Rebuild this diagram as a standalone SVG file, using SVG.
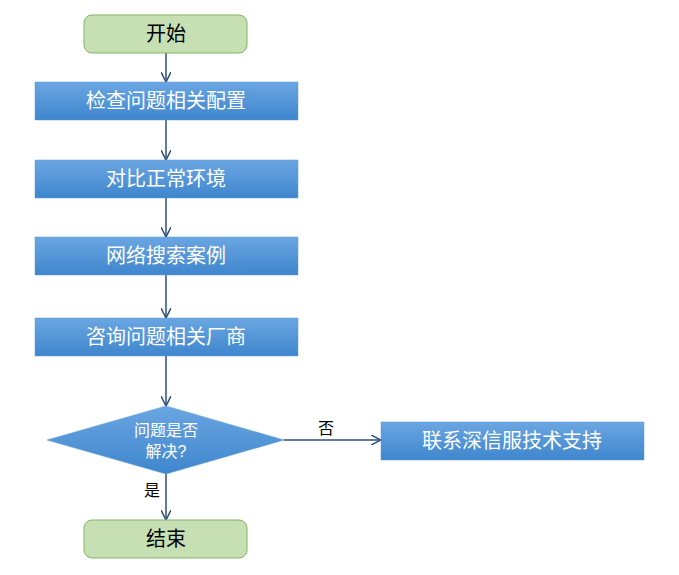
<svg xmlns="http://www.w3.org/2000/svg" width="679" height="575" viewBox="0 0 679 575">
<defs>
<linearGradient id="bg" x1="0" y1="0" x2="0" y2="1"><stop offset="0" stop-color="#6aa6e2"/><stop offset="1" stop-color="#3f86cd"/></linearGradient>
<marker id="ar" viewBox="0 0 10 10" refX="10" refY="5" markerWidth="10" markerHeight="10" markerUnits="userSpaceOnUse" orient="auto"><path d="M0,0 L10,5 L0,10" fill="none" stroke="#2f4f7a" stroke-width="1.5"/></marker>
<style>
.g{fill:#c6e0b4;stroke:#82b366;stroke-width:1}
.b{fill:url(#bg);stroke:#5b9bd5;stroke-width:0.5}
.t{font-family:"Liberation Sans","Noto Sans CJK SC",sans-serif;font-size:20px;text-anchor:middle;dominant-baseline:central}
.w{fill:#fff}
.k{fill:#000}
.c{stroke:#2f4f7a;stroke-width:1.5;fill:none;marker-end:url(#ar)}
.s{font-family:"Liberation Sans","Noto Sans CJK SC",sans-serif;font-size:16px;text-anchor:middle;dominant-baseline:central}
</style>
</defs>
<g id="connectors">
<line class="c" x1="166" y1="53" x2="166" y2="82"/>
<line class="c" x1="166" y1="120" x2="166" y2="160"/>
<line class="c" x1="166" y1="198" x2="166" y2="237"/>
<line class="c" x1="166" y1="275" x2="166" y2="318"/>
<line class="c" x1="166" y1="356" x2="166" y2="406"/>
<line class="c" x1="166" y1="474" x2="166" y2="520"/>
<line class="c" x1="284" y1="440" x2="381" y2="440"/>
<text class="s k" x="326" y="428">否</text>
<text class="s k" x="152" y="490">是</text>
</g>
<g id="start"><rect class="g" x="84" y="15" width="163" height="38" rx="8"/><text class="t k" x="166" y="34">开始</text></g>
<g id="n1"><rect class="b" x="35" y="82" width="263" height="38"/><text class="t w" x="166" y="101">检查问题相关配置</text></g>
<g id="n2"><rect class="b" x="35" y="160" width="263" height="38"/><text class="t w" x="166" y="179">对比正常环境</text></g>
<g id="n3"><rect class="b" x="35" y="237" width="263" height="38"/><text class="t w" x="166" y="256">网络搜索案例</text></g>
<g id="n4"><rect class="b" x="35" y="318" width="263" height="38"/><text class="t w" x="166" y="337">咨询问题相关厂商</text></g>
<g id="decision"><polygon class="b" points="166,406 284,440 166,474 47,440"/><text class="s w" x="166" y="430">问题是否</text><text class="s w" x="166" y="451">解决?</text></g>
<g id="support"><rect class="b" x="381" y="422" width="263" height="38"/><text class="t w" x="512" y="441">联系深信服技术支持</text></g>
<g id="end"><rect class="g" x="84" y="520" width="163" height="38" rx="8"/><text class="t k" x="166" y="539">结束</text></g>
</svg>
